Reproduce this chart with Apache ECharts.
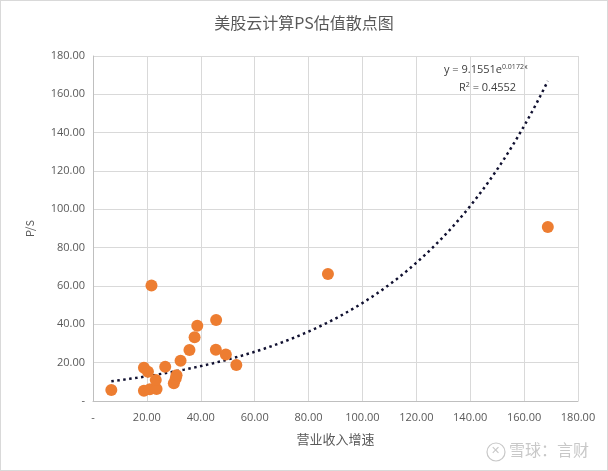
<!DOCTYPE html>
<html><head><meta charset="utf-8">
<script src="https://cdn.jsdelivr.net/npm/echarts@6/dist/echarts.min.js"></script>
<style>html,body{margin:0;padding:0;background:#fff}#c{width:606px;height:469px;border:1px solid #d9d9d9}</style>
</head><body><div id="c"></div>
<script>
// Data
const growth = [6.8, 21.7, 18.9, 20.4, 18.9, 21.1, 23.6, 23.3, 26.8, 30.0, 30.7, 31.0, 32.5, 35.8, 37.7, 38.7, 45.7, 45.6, 49.3, 53.2, 87.2, 168.8];
const ps     = [5.7, 60.3, 17.3, 15.3, 5.4, 6.1, 6.25, 10.9, 17.9, 9.2, 11.8, 13.5, 21.0, 26.6, 33.2, 39.2, 42.2, 26.7, 24.3, 18.75, 66.3, 90.8];
const trendA = 9.1551, trendB = 0.0172;
const xTicks = ['-', '20.00','40.00','60.00','80.00','100.00','120.00','140.00','160.00','180.00'];

const pts = growth.map((g,i)=>[g, ps[i]]);
const xMin = Math.min(...growth), xMax = Math.max(...growth);
const trend = [];
const N = 120;
for (let i=0;i<=N;i++){ const x = xMin + (xMax-xMin)*i/N; trend.push([x, trendA*Math.exp(trendB*x)]); }

const font = '"Microsoft YaHei","Noto Sans CJK SC",sans-serif';
const fmt = v => v===0 ? '-' : v.toFixed(2);
const chart = echarts.init(document.getElementById('c'));
chart.setOption({
  animation:false,
  title:{text:'美股云计算PS估值散点图', left:'center', top:9, textStyle:{fontFamily:font, fontSize:16, fontWeight:'normal', color:'#595959'}},
  grid:{left:92, right:29, top:55, bottom:69},
  xAxis:{type:'value', min:0, max:180, interval:20, name:'营业收入增速', nameLocation:'middle', nameGap:32,
    nameTextStyle:{fontFamily:font, fontSize:13, color:'#595959'},
    axisLine:{show:true, lineStyle:{color:'#bfbfbf'}}, axisTick:{show:false},
    axisLabel:{fontFamily:'"Open Sans",sans-serif', fontSize:11, color:'#595959', margin:11, formatter:(v)=>xTicks[Math.round(v/20)]},
    splitLine:{show:true, lineStyle:{color:'#d9d9d9'}}},
  yAxis:{type:'value', min:0, max:180, interval:20, name:'P/S', nameLocation:'middle', nameGap:58, nameRotate:90,
    nameTextStyle:{fontFamily:font, fontSize:11, color:'#595959'},
    axisLine:{show:true, lineStyle:{color:'#bfbfbf'}}, axisTick:{show:false},
    axisLabel:{fontFamily:'"Open Sans",sans-serif', fontSize:11, color:'#595959', margin:8, formatter:fmt},
    splitLine:{show:true, lineStyle:{color:'#d9d9d9'}}},
  series:[
    {type:'line', data:trend, showSymbol:false, symbol:'none', smooth:false, z:1,
     lineStyle:{type:[2.5,3.5], width:2.5, color:'#101030'}},
    {type:'scatter', data:pts, symbolSize:12, z:3, itemStyle:{color:'#ED7D31', opacity:1}}
  ],
  graphic:[
    {type:'text', left:443, top:62, style:{text:'{a|y = 9.1551e}{s|0.0172x}', rich:{a:{fontFamily:'"Open Sans",sans-serif',fontSize:11,fill:'#404040'}, s:{fontFamily:'"Open Sans",sans-serif',fontSize:7,fill:'#404040',verticalAlign:'top',padding:[0,0,6,0]}}}},
    {type:'text', left:458, top:80, style:{text:'{a|R}{s|2}{a| = 0.4552}', rich:{a:{fontFamily:'"Open Sans",sans-serif',fontSize:11,fill:'#404040'}, s:{fontFamily:'"Open Sans",sans-serif',fontSize:7,fill:'#404040',padding:[0,0,6,0]}}}},
    {type:'circle', shape:{cx:495, cy:451, r:9}, style:{fill:'none', stroke:'#c8c8c8', lineWidth:1.2}},
    {type:'text', left:490, top:444, style:{text:'✕', fontSize:11, fill:'#c8c8c8'}},
    {type:'text', left:508, top:441, style:{text:'雪球：言财', fontFamily:font, fontSize:16, fill:'#c8c8c8'}}
  ]
});
</script></body></html>
